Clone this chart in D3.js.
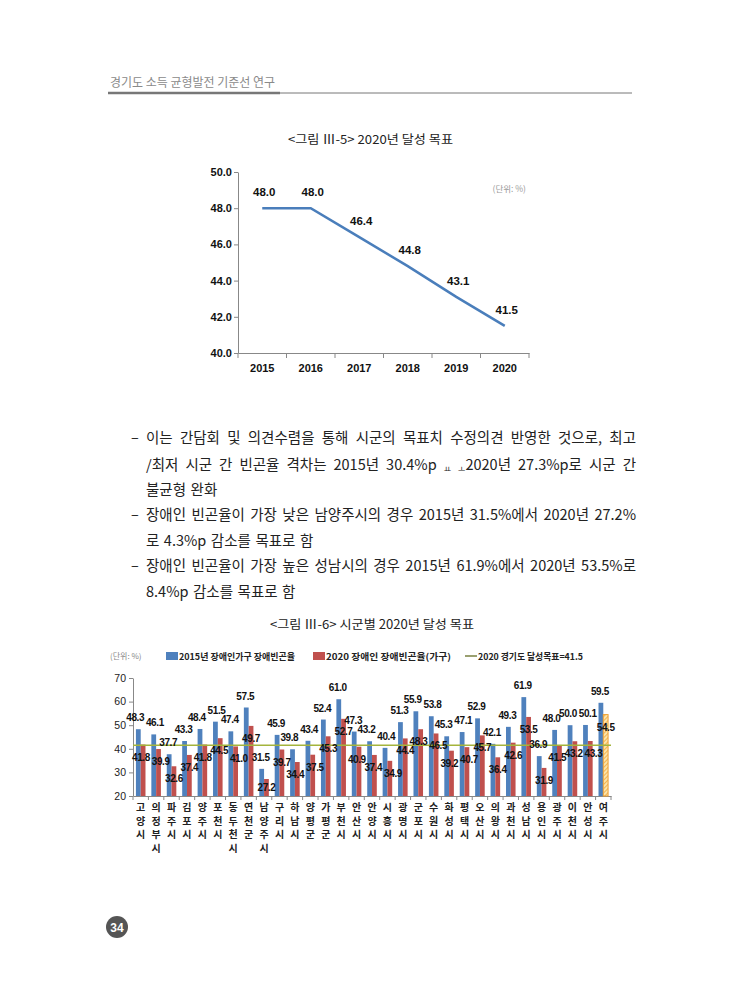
<!DOCTYPE html>
<html><head><meta charset="utf-8">
<script src="https://cdn.jsdelivr.net/npm/d3@7"></script>
<style>body{margin:0;background:#fff}svg{display:block}</style>
</head><body>
<svg id="page" width="741" height="1005"></svg>
<script>
// ---- data ----
const years = ["2015","2016","2017","2018","2019","2020"];
const targets = [48.0, 48.0, 46.4, 44.8, 43.1, 41.5];
const lineTicks = [40, 42, 44, 46, 48, 50];

const cities = ["고양시","의정부시","파주시","김포시","양주시","포천시","동두천시","연천군","남양주시","구리시","하남시","양평군","가평군","부천시","안산시","안양시","시흥시","광명시","군포시","수원시","화성시","평택시","오산시","의왕시","과천시","성남시","용인시","광주시","이천시","안성시","여주시"];
const rate2015 = [48.3,46.1,37.7,43.3,48.4,51.5,47.4,57.5,31.5,45.9,39.8,43.4,52.4,61.0,47.3,43.2,40.4,51.3,55.9,53.8,45.3,47.1,52.9,42.1,49.3,61.9,36.9,48.0,50.0,50.1,59.5];
const rate2020 = [41.8,39.9,32.6,37.4,41.8,44.5,41.0,49.7,27.2,39.7,34.4,37.5,45.3,52.7,40.9,37.4,34.9,44.4,48.3,46.5,39.2,40.7,45.7,36.4,42.6,53.5,31.9,41.5,43.2,43.3,54.5];
const goal2020 = 41.5;
const barTicks = [20, 30, 40, 50, 60, 70];
const legendLabels = ["2015년 장애인가구 장애빈곤율", "2020 장애인 장애빈곤율(가구)", "2020 경기도 달성목표=41.5"];

const bodyLines = [
  {dash:true,  justify:true,  text:"이는 간담회 및 의견수렴을 통해 시군의 목표치 수정의견 반영한 것으로, 최고"},
  {dash:false, justify:true,  text:"/최저 시군 간 빈곤율 격차는 2015년 30.4%p ㅛ ㅗ2020년 27.3%p로 시군 간"},
  {dash:false, justify:false, text:"불균형 완화"},
  {dash:true,  justify:true,  text:"장애인 빈곤율이 가장 낮은 남양주시의 경우 2015년 31.5%에서 2020년 27.2%"},
  {dash:false, justify:false, text:"로 4.3%p 감소를 목표로 함"},
  {dash:true,  justify:true,  text:"장애인 빈곤율이 가장 높은 성남시의 경우 2015년 61.9%에서 2020년 53.5%로"},
  {dash:false, justify:false, text:"8.4%p 감소를 목표로 함"}
];

// ---- page ----
const svg = d3.select("#page");
const KR = "'Noto Sans CJK KR','Noto Sans',sans-serif";
const NUM = "'Liberation Sans','DejaVu Sans',sans-serif";
svg.append("rect").attr("width",741).attr("height",1005).attr("fill","#fff");

// header
svg.append("text").attr("x",110).attr("y",87).attr("font-family",KR).attr("font-size",12.5)
  .attr("fill","#8a8a8a").attr("textLength",165).attr("lengthAdjust","spacingAndGlyphs")
  .text("경기도 소득 균형발전 기준선 연구");
svg.append("line").attr("x1",280).attr("x2",632).attr("y1",93).attr("y2",93).attr("stroke","#777").attr("stroke-width",1);
svg.append("line").attr("x1",108).attr("x2",280).attr("y1",93).attr("y2",93).attr("stroke","#777").attr("stroke-width",2.5);

// title 1
svg.append("text").attr("x",288).attr("y",144).attr("font-family",KR).attr("font-size",12.5)
  .attr("fill","#222").attr("textLength",165).attr("lengthAdjust","spacingAndGlyphs")
  .text("<그림 Ⅲ-5> 2020년 달성 목표");

// ---- chart 1 ----
const c1 = svg.append("g");
const x1 = d3.scaleBand().domain(years).range([238,529]);
const y1 = d3.scaleLinear().domain([40,50]).range([353,172]);

const ya1 = c1.append("g").attr("transform","translate(238,0)")
  .call(d3.axisLeft(y1).tickValues(lineTicks).tickFormat(d3.format(".1f")).tickSize(4).tickSizeOuter(0));
ya1.select(".domain").attr("stroke","#888");
ya1.selectAll(".tick line").attr("stroke","#888");
ya1.selectAll(".tick text").attr("font-family",NUM).attr("font-weight","bold").attr("font-size",11).attr("fill","#111").attr("x",-6);

const xa1 = c1.append("g").attr("transform","translate(0,353)")
  .call(d3.axisBottom(x1).tickSize(0).tickSizeOuter(0));
xa1.select(".domain").attr("stroke","#888");
xa1.selectAll(".tick text").attr("font-family",NUM).attr("font-weight","bold").attr("font-size",11).attr("fill","#111").attr("dy","1.45em");
c1.selectAll(".bt").data(years.concat(["end"])).enter().append("line")
  .attr("x1",(d,i)=> i<years.length ? x1(d) : x1.range()[1]).attr("x2",(d,i)=> i<years.length ? x1(d) : x1.range()[1])
  .attr("y1",353).attr("y2",358).attr("stroke","#888");

const pts = years.map((yr,i)=>({yr, v:targets[i]}));
c1.append("path").datum(pts)
  .attr("d", d3.line().x(d=>x1(d.yr)+x1.bandwidth()/2).y(d=>y1(d.v)))
  .attr("fill","none").attr("stroke","#4A7EBB").attr("stroke-width",2.5);
c1.selectAll(".lbl").data(pts).enter().append("text")
  .attr("x",d=>x1(d.yr)+x1.bandwidth()/2+2).attr("y",d=>y1(d.v)-12)
  .attr("text-anchor","middle").attr("font-family",NUM).attr("font-weight","bold").attr("font-size",11.5).attr("fill","#111")
  .text(d=>d3.format(".1f")(d.v));
c1.append("text").attr("x",526).attr("y",192).attr("text-anchor","end").attr("font-family",KR).attr("font-size",8.5).attr("fill","#999").text("(단위: %)");

// ---- body text ----
const body = svg.append("g").attr("font-family",KR).attr("font-size",14.5).attr("fill","#222");
const baseY = [443,470,495,520,546,571,597];
const jamo = /[ㅛㅗ]/;
bodyLines.forEach((ln,i)=>{
  const y = baseY[i];
  if (ln.dash) body.append("text").attr("x",131).attr("y",y).text("–");
  const words = ln.text.split(" ");
  const x0 = 146, xEnd = 636;
  const nodes = words.map(w=>{
    const t = body.append("text").attr("y",y);
    Array.from(w).forEach(ch=>{
      if (jamo.test(ch)) t.append("tspan").attr("font-size",8).attr("baseline-shift","-2").text(ch);
      else t.append("tspan").text(ch);
    });
    return t;
  });
  const widths = nodes.map(n=> n.node().getComputedTextLength());
  const total = d3.sum(widths);
  const gap = ln.justify ? (xEnd-x0-total)/(words.length-1) : 4.5;
  let cx = x0;
  nodes.forEach((n,k)=>{ n.attr("x",cx); cx += widths[k]+gap; });
});

// title 2
svg.append("text").attr("x",270).attr("y",629).attr("font-family",KR).attr("font-size",12.5)
  .attr("fill","#222").attr("textLength",204).attr("lengthAdjust","spacingAndGlyphs")
  .text("<그림 Ⅲ-6> 시군별 2020년 달성 목표");

// ---- chart 2 ----
const c2 = svg.append("g");
const blue = "#4F81BD", red = "#C0504D", olive = "#A4B43C";
const defs = svg.append("defs");
const pat = defs.append("pattern").attr("id","hatch").attr("patternUnits","userSpaceOnUse")
  .attr("width",3).attr("height",3).attr("patternTransform","rotate(45)");
pat.append("rect").attr("width",3).attr("height",3).attr("fill","#FCE4A8");
pat.append("line").attr("x1",0).attr("y1",0).attr("x2",0).attr("y2",3).attr("stroke","#F0A030").attr("stroke-width",1.4);

// legend
c2.append("text").attr("x",110).attr("y",659).attr("font-family",KR).attr("font-size",8).attr("fill","#888").text("(단위: %)");
const legX = [166, 313, 465];
const legW = [116, 125, 105];
c2.append("rect").attr("x",legX[0]).attr("y",652).attr("width",12).attr("height",8).attr("fill",blue);
c2.append("rect").attr("x",legX[1]).attr("y",652).attr("width",12).attr("height",8).attr("fill",red);
c2.append("line").attr("x1",legX[2]).attr("x2",legX[2]+12).attr("y1",656).attr("y2",656).attr("stroke","#9aA070").attr("stroke-width",2);
legendLabels.forEach((t,i)=>{
  c2.append("text").attr("x",legX[i]+13).attr("y",660).attr("font-family",KR).attr("font-weight","bold").attr("font-size",9)
    .attr("fill","#222").attr("textLength",legW[i]).attr("lengthAdjust","spacingAndGlyphs").text(t);
});

const x2 = d3.scaleBand().domain(cities).range([133,611]).paddingInner(0.38).paddingOuter(0.19);
const xs = d3.scaleBand().domain(["a","b"]).range([0,x2.bandwidth()]);
const y2 = d3.scaleLinear().domain([20,70]).range([796,678]);

const ya2 = c2.append("g").attr("transform","translate(133,0)")
  .call(d3.axisLeft(y2).tickValues(barTicks).tickSize(4).tickSizeOuter(0));
ya2.select(".domain").attr("stroke","#888");
ya2.selectAll(".tick line").attr("stroke","#888");
ya2.selectAll(".tick text").attr("font-family",NUM).attr("font-size",10.5).attr("fill","#222").attr("x",-7);

const xa2 = c2.append("g").attr("transform","translate(0,796)")
  .call(d3.axisBottom(x2).tickSize(0).tickSizeOuter(0).tickFormat(""));
xa2.select(".domain").attr("stroke","#888");
const step = x2.step();
c2.selectAll(".bt2").data(d3.range(cities.length+1)).enter().append("line")
  .attr("x1",i=>133+i*step).attr("x2",i=>133+i*step).attr("y1",796).attr("y2",800).attr("stroke","#888");

const rows = cities.map((c,i)=>({c, a:rate2015[i], b:rate2020[i], last: i===cities.length-1}));
c2.selectAll(".ba").data(rows).enter().append("rect")
  .attr("x",d=>x2(d.c)+xs("a")).attr("width",xs.bandwidth())
  .attr("y",d=>y2(d.a)).attr("height",d=>y2(20)-y2(d.a)).attr("fill",blue);
c2.selectAll(".bb").data(rows).enter().append("rect")
  .attr("x",d=>x2(d.c)+xs("b")).attr("width",xs.bandwidth())
  .attr("y",d=>y2(d.b)).attr("height",d=>y2(20)-y2(d.b))
  .attr("fill",d=>d.last ? "url(#hatch)" : red)
  .attr("stroke",d=>d.last ? "#F0A030" : "none").attr("stroke-width",1);

c2.append("line").attr("x1",133).attr("x2",611).attr("y1",y2(goal2020)).attr("y2",y2(goal2020))
  .attr("stroke",olive).attr("stroke-width",1.6);

const lblA = c2.selectAll(".la").data(rows).enter().append("text")
  .attr("x",d=>x2(d.c)+xs("a")+xs.bandwidth()/2-1).attr("y",d=>y2(d.a)-8)
  .text(d=>d3.format(".1f")(d.a));
const lblB = c2.selectAll(".lb").data(rows).enter().append("text")
  .attr("x",d=>x2(d.c)+xs("b")+xs.bandwidth()/2).attr("y",d=>Math.min(y2(d.b)+16, 791))
  .text(d=>d3.format(".1f")(d.b));
[lblA,lblB].forEach(s=> s.attr("text-anchor","middle").attr("font-family",NUM).attr("font-weight","bold")
  .attr("font-size",10).attr("fill","#111").attr("letter-spacing",-0.4));

// nudge neighbouring labels of the same series apart when they collide
[lblA,lblB].forEach(sel=>{
  const ns = sel.nodes();
  for (let k=1;k<ns.length;k++){
    const a = ns[k-1], b = ns[k];
    const ba = a.getBBox(), bb = b.getBBox();
    const vOverlap = Math.abs((ba.y+ba.height/2)-(bb.y+bb.height/2)) < ba.height*0.8;
    const ov = ba.x+ba.width - bb.x;
    if (vOverlap && ov > 0) {
      a.setAttribute("x", +a.getAttribute("x") - ov/2 - 0.5);
      b.setAttribute("x", +b.getAttribute("x") + ov/2 + 0.5);
    }
  }
});

// vertical city labels (one text per city, stacked characters)
rows.forEach(d=>{
  const cx = x2(d.c)+x2.bandwidth()/2;
  const t = c2.append("text").attr("x",cx).attr("y",811).attr("text-anchor","middle")
    .attr("font-family",KR).attr("font-weight","bold").attr("font-size",10).attr("fill","#222");
  Array.from(d.c).forEach((ch,k)=>{
    t.append("tspan").attr("x",cx).attr("dy",k===0?0:13.5).text(ch);
  });
});

// page number
svg.append("circle").attr("cx",117).attr("cy",927).attr("r",11).attr("fill","#555");
svg.append("text").attr("x",117).attr("y",931.5).attr("text-anchor","middle").attr("font-family",NUM)
  .attr("font-weight","bold").attr("font-size",12).attr("fill","#fff").text("34");
</script>
</body></html>
